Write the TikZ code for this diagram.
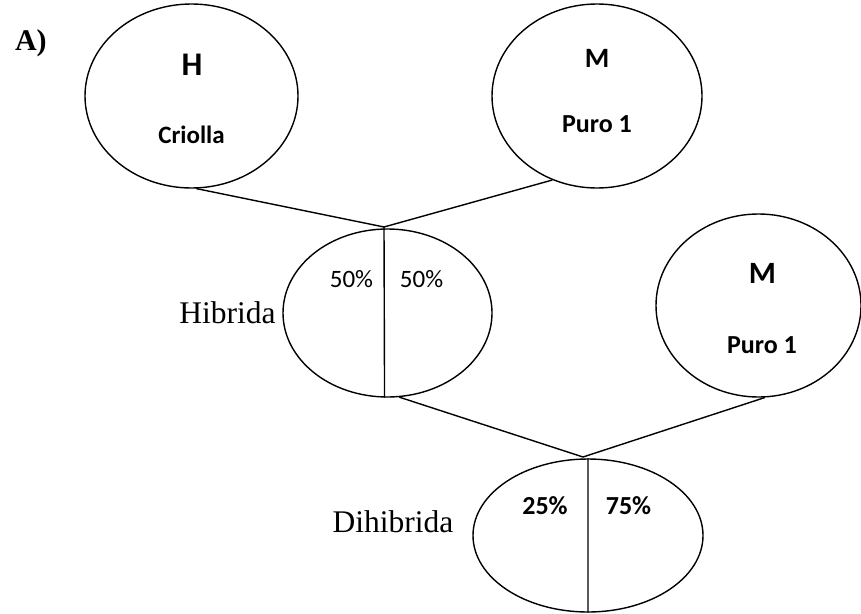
\documentclass[tikz,border=0pt]{standalone}
\usepackage{fontspec}
\setmainfont{Liberation Serif}
\newfontfamily\calibri{Carlito}
\usetikzlibrary{shapes.geometric, positioning, calc}

\begin{document}
\begin{tikzpicture}[x=1pt, y=-1pt, line width=1.4pt,
    parent/.style={ellipse, draw, inner sep=0pt},
    sexo/.style={anchor=base, font=\calibri\bfseries\fontsize{31}{31}\selectfont},
    raza/.style={anchor=base, font=\calibri\bfseries\fontsize{26}{26}\selectfont},
    pct/.style={anchor=base, font=\calibri\fontsize{25}{25}\selectfont},
    cruce/.style={font=\fontsize{31.5}{31.5}\selectfont}]
    \useasboundingbox (0,0) rectangle (861,613);

    \node[anchor=base west, font=\bfseries\fontsize{30}{30}\selectfont] (titulo) at (11,50) {A)};

    \node[parent, minimum width=213pt, minimum height=184pt] (h) at (191.5,96) {};
    \node[parent, minimum width=210pt, minimum height=184pt] (m1) at (597,96) {};
    \node[parent, minimum width=209pt, minimum height=168pt] (hib) at (387.5,313) {};
    \node[parent, minimum width=205pt, minimum height=183pt] (m2) at (758.5,305.5) {};
    \node[parent, minimum width=230pt, minimum height=153pt] (dih) at (588,535.5) {};

    \node[sexo, font=\calibri\bfseries\fontsize{33}{33}\selectfont] (hH) at (192,75) {H};
    \node[raza, font=\calibri\bfseries\fontsize{25}{25}\selectfont] (hR) at (191.5,143) {Criolla};
    \node[sexo, font=\calibri\bfseries\fontsize{28}{28}\selectfont] (m1M) at (597,67) {M};
    \node[raza] (m1R) at (597,132) {Puro 1};
    \node[sexo] (m2M) at (762.5,283) {M};
    \node[raza] (m2R) at (762,353) {Puro 1};

    \node[pct] (hibL) at (351.5,287) {50\%};
    \node[pct] (hibR) at (421.5,287) {50\%};
    \node[pct, font=\calibri\bfseries\fontsize{26}{26}\selectfont] (dihL) at (545,514) {25\%};
    \node[pct, font=\calibri\bfseries\fontsize{26}{26}\selectfont] (dihR) at (628.5,514) {75\%};

    \node[cruce, inner sep=3pt, left=3pt of hib] (hibT) {Hibrida};
    \node[cruce, anchor=base east, inner sep=0pt] (dihT) at (454,532) {Dihibrida};

    \coordinate (j1) at (384,227);
    \coordinate (j2) at (583,457);

    \draw
        (h.-87) -- (j1) -- (m1.-118)
        (j1) -- (hib.-92)
        (hib.-82) -- (j2) -- (m2.-86)
        (dih.north) -- (dih.south)
        ;
\end{tikzpicture}
\end{document}
